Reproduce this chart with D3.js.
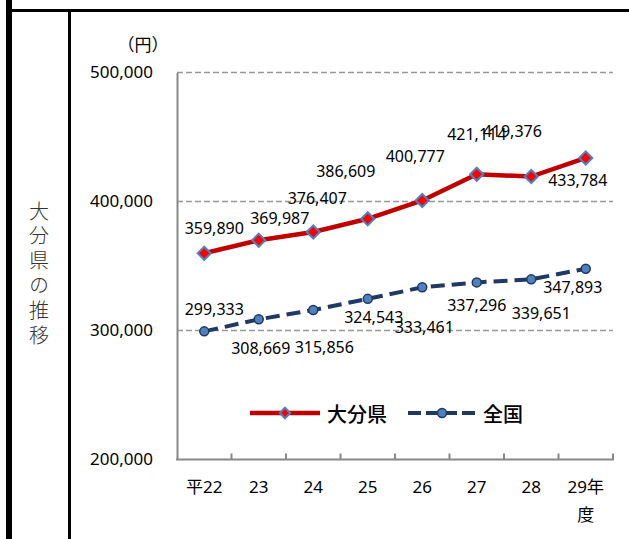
<!DOCTYPE html>
<html>
<head>
<meta charset="utf-8">
<script src="https://cdn.jsdelivr.net/npm/d3@7"></script>
<style>
  body { margin: 0; background: #fff; }
  svg text { font-family: "Noto Sans", "Noto Sans CJK JP", sans-serif; fill: #000; }
  svg text.cjk { font-family: "Noto Sans CJK JP", sans-serif; }
</style>
</head>
<body>
<div id="chart"></div>
<script>
// data
var years = ["平22", "23", "24", "25", "26", "27", "28", "29年度"];
var xTickLabels = [["平22"], ["23"], ["24"], ["25"], ["26"], ["27"], ["28"], ["29年", "度"]];
var oita = [359890, 369987, 376407, 386609, 400777, 421114, 419376, 433784];
var national = [299333, 308669, 315856, 324543, 333461, 337296, 339651, 347893];
var yTicks = [200000, 300000, 400000, 500000];

// where the value labels sit relative to their point (px)
var oitaLabelOffset = [[10, -25], [21, -22], [4, -34], [-22, -48], [-7, -44], [0, -40], [-19, -46], [-8, 22]];
var nationalLabelOffset = [[10, -22], [2, 29], [11, 37], [6, 18], [2, 40], [0, 23], [10, 34], [-13, 18]];

var svgWidth = 629;
var svgHeight = 539;

var svg = d3.select("#chart")
  .append("svg")
  .attr("width", svgWidth)
  .attr("height", svgHeight);

// table borders
svg.append("rect").attr("x", 6).attr("y", 0).attr("width", 6).attr("height", svgHeight).attr("fill", "#000");
svg.append("rect").attr("x", 6).attr("y", 9).attr("width", svgWidth - 6).attr("height", 3).attr("fill", "#000");
svg.append("rect").attr("x", 68).attr("y", 9).attr("width", 3).attr("height", svgHeight - 9).attr("fill", "#000");

// side title, written vertically
svg.append("text")
  .attr("class", "cjk")
  .attr("x", 39)
  .attr("y", 201)
  .style("writing-mode", "vertical-rl")
  .style("letter-spacing", "4.8px")
  .style("font-size", "20px")
  .style("font-weight", "300")
  .style("fill", "#333")
  .text("大分県の推移");

// scales
var x = d3.scaleBand().domain(years).range([177, 613]);
var y = d3.scaleLinear().domain([200000, 500000]).range([459.5, 72.5]);
var cx = function(d, i) { return x(years[i]) + x.bandwidth() / 2; };

// gridlines
svg.append("g").selectAll("line")
  .data(yTicks.slice(1))
  .enter().append("line")
  .attr("x1", 177).attr("x2", 613)
  .attr("y1", d => y(d)).attr("y2", d => y(d))
  .attr("stroke", "#999")
  .attr("stroke-width", 1.5)
  .attr("stroke-dasharray", "6,3");

// y axis
var leftAxis = d3.axisLeft(y).tickValues(yTicks).tickSize(0).tickPadding(24).tickFormat(d3.format(","));
var yAxisG = svg.append("g").attr("transform", "translate(177,0)").call(leftAxis);
yAxisG.select(".domain").attr("stroke", "#888").attr("stroke-width", 2);
yAxisG.selectAll("text").style("font-size", "17px").attr("fill", "#000");

// x axis, ticks pointing up into the plot
var tickPos = [177].concat(years.map(d => x(d) + x.bandwidth()));
var xAxisG = svg.append("g");
xAxisG.append("line")
  .attr("x1", 176).attr("x2", 614)
  .attr("y1", y(200000)).attr("y2", y(200000))
  .attr("stroke", "#888").attr("stroke-width", 2);
xAxisG.selectAll(".tk")
  .data(tickPos.slice(1))
  .enter().append("line")
  .attr("x1", d => d).attr("x2", d => d)
  .attr("y1", y(200000)).attr("y2", y(200000) - 6)
  .attr("stroke", "#888").attr("stroke-width", 2);
xTickLabels.forEach(function(lines, i) {
  var t = xAxisG.append("text")
    .attr("text-anchor", "middle")
    .style("font-size", "17px");
  lines.forEach(function(l, j) {
    t.append("tspan").attr("x", cx(null, i)).attr("y", 493 + j * 28).text(l);
  });
});

// unit
svg.append("text").attr("class", "cjk").attr("x", 143).attr("y", 51).attr("text-anchor", "middle")
  .style("font-size", "17px").text("（円）");

// lines
var line = d3.line().x(cx).y(d => y(d));

svg.append("path").datum(national)
  .attr("d", line)
  .attr("fill", "none")
  .attr("stroke", "#1f3864")
  .attr("stroke-width", 4)
  .attr("stroke-dasharray", "14,7");

svg.append("path").datum(oita)
  .attr("d", line)
  .attr("fill", "none")
  .attr("stroke", "#c00000")
  .attr("stroke-width", 4.5);

// markers
var diamond = d3.symbol().type(d3.symbolDiamond2).size(110);
svg.append("g").selectAll("path")
  .data(oita)
  .enter().append("path")
  .attr("d", diamond)
  .attr("transform", (d, i) => `translate(${cx(d, i)},${y(d)})`)
  .attr("fill", "#ff0000")
  .attr("stroke", "#4f81bd")
  .attr("stroke-width", 2);

svg.append("g").selectAll("circle")
  .data(national)
  .enter().append("circle")
  .attr("cx", cx)
  .attr("cy", d => y(d))
  .attr("r", 4.5)
  .attr("fill", "#4f81bd")
  .attr("stroke", "#1f3864")
  .attr("stroke-width", 1.5);

// value labels
var fmt = d3.format(",");
function labels(values, offsets) {
  svg.append("g").selectAll("text")
    .data(values)
    .enter().append("text")
    .attr("x", (d, i) => cx(d, i) + offsets[i][0])
    .attr("y", (d, i) => y(d) + offsets[i][1])
    .attr("text-anchor", "middle")
    .attr("dominant-baseline", "central")
    .style("font-size", "16px")
    .text(d => fmt(d));
}
labels(oita, oitaLabelOffset);
labels(national, nationalLabelOffset);

// legend
var lg = svg.append("g").attr("transform", "translate(0,413)");
lg.append("line").attr("x1", 250).attr("x2", 320).attr("stroke", "#c00000").attr("stroke-width", 4.5);
lg.append("path").attr("d", d3.symbol().type(d3.symbolDiamond2).size(70))
  .attr("transform", "translate(285,0)")
  .attr("fill", "#ff0000").attr("stroke", "#4f81bd").attr("stroke-width", 2);
lg.append("text").attr("class", "cjk").attr("x", 327).attr("dominant-baseline", "central")
  .style("font-size", "20px").style("font-weight", "500").text("大分県");
lg.append("line").attr("x1", 408).attr("x2", 476).attr("stroke", "#1f3864").attr("stroke-width", 4)
  .attr("stroke-dasharray", "13,5");
lg.append("circle").attr("cx", 442).attr("r", 4.5)
  .attr("fill", "#4f81bd").attr("stroke", "#1f3864").attr("stroke-width", 1.5);
lg.append("text").attr("class", "cjk").attr("x", 483).attr("dominant-baseline", "central")
  .style("font-size", "20px").style("font-weight", "500").text("全国");
</script>
</body>
</html>
